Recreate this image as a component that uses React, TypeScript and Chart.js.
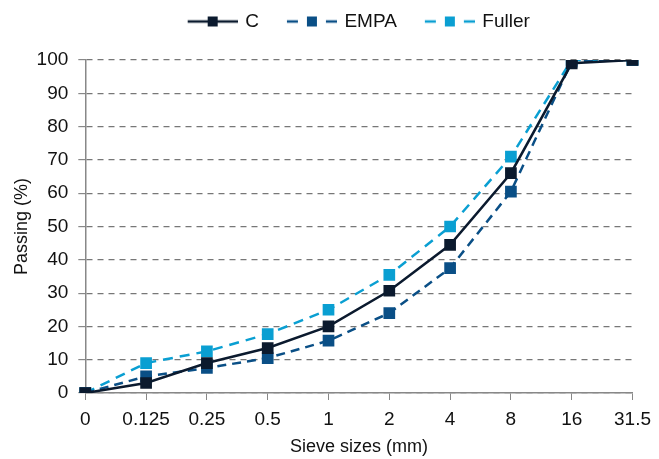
import React, { useEffect, useRef } from "react";
import { Chart, registerables } from "chart.js";
Chart.register(...registerables);

const categories = ["0", "0.125", "0.25", "0.5", "1", "2", "4", "8", "16", "31.5"];
const seriesC = [0, 3, 9, 13.5, 20, 30.7, 44.5, 66, 99, 100];
const seriesEMPA = [0, 5, 7.5, 10.5, 15.7, 24, 37.5, 60.5, 99.5, 100];
const seriesFuller = [0, 9, 12.5, 17.7, 25, 35.5, 50, 71, 100, 100];

const colC = "#0b1a2e";
const colEMPA = "#0a4f86";
const colFuller = "#0a9fd2";

const EXTRA = 22;

function legendIcon(color: string, dashed: boolean) {
  const c = document.createElement("canvas");
  c.width = 50 + EXTRA;
  c.height = 12;
  const ctx = c.getContext("2d")!;
  ctx.strokeStyle = color;
  ctx.lineWidth = 2.5;
  ctx.beginPath();
  const x0 = EXTRA;
  if (dashed) {
    ctx.moveTo(x0, 6); ctx.lineTo(x0 + 11, 6);
    ctx.moveTo(x0 + 39, 6); ctx.lineTo(x0 + 50, 6);
  } else {
    ctx.moveTo(x0, 6); ctx.lineTo(x0 + 50, 6);
  }
  ctx.stroke();
  ctx.fillStyle = color;
  ctx.fillRect(x0 + 20, 1, 10, 10);
  return c;
}

const legendShift = {
  id: "legendShift",
  beforeLayout(chart: any) {
    const lg = chart.legend;
    if (lg && !lg.__patched) {
      lg.__patched = true;
      const orig = lg.fit;
      lg.fit = function () {
        orig.call(this);
        this.height += 19;
      };
    }
  },
  afterLayout(chart: any) {
    if (chart.legend) {
      chart.legend.left += 58;
    }
  },
};

export default function App() {
  const ref = useRef<HTMLCanvasElement>(null);
  useEffect(() => {
    document.body.style.margin = "0";
    const icons = [legendIcon(colC, false), legendIcon(colEMPA, true), legendIcon(colFuller, true)];
    const font = { family: "'Liberation Sans', Arial, sans-serif", size: 19 };
    const tfont = { family: "'Liberation Sans', Arial, sans-serif", size: 18 };
    const chart = new Chart(ref.current!, {
      type: "line",
      plugins: [legendShift],
      data: {
        labels: categories,
        datasets: [
          { label: "C", data: seriesC, borderColor: colC, backgroundColor: colC, borderWidth: 2.5, pointStyle: "rect", pointRadius: 6.5, pointHoverRadius: 6.5, tension: 0 },
          { label: "EMPA", data: seriesEMPA, borderColor: colEMPA, backgroundColor: colEMPA, borderWidth: 2.5, borderDash: [9, 6], pointStyle: "rect", pointRadius: 6.5, tension: 0 },
          { label: "Fuller", data: seriesFuller, borderColor: colFuller, backgroundColor: colFuller, borderWidth: 2.5, borderDash: [10, 7], pointStyle: "rect", pointRadius: 6.5, tension: 0 },
        ],
      },
      options: {
        animation: false,
        responsive: true,
        maintainAspectRatio: false,
        layout: { padding: { left: 5, right: 24.5, top: 4, bottom: 1 } },
        plugins: {
          tooltip: { enabled: false },
          legend: {
            position: "top",
            labels: {
              color: "#111",
              font,
              usePointStyle: true,
              pointStyleWidth: 50 + EXTRA - 4,
              padding: 8,
              generateLabels: (ch: any) =>
                ch.data.datasets.map((d: any, i: number) => ({
                  text: d.label,
                  pointStyle: icons[i],
                  fontColor: "#111",
                  datasetIndex: i,
                  hidden: false,
                  lineWidth: 0,
                  strokeStyle: "transparent",
                  fillStyle: "transparent",
                })),
            },
          },
        },
        scales: {
          x: {
            offset: false,
            grid: { drawOnChartArea: false, drawTicks: true, tickLength: 7, color: "#888" },
            border: { display: true, color: "#888", width: 1.5 },
            ticks: { color: "#111", font, maxRotation: 0, autoSkip: false, padding: 8 },
            title: { display: true, text: "Sieve sizes (mm)", color: "#111", font: tfont, padding: { top: -2.4, bottom: 0 } },
          },
          y: {
            min: 0,
            max: 100,
            ticks: { stepSize: 10, color: "#111", font, padding: 10 },
            grid: { color: "#777", lineWidth: 1.2, tickLength: 7, tickBorderDash: [], tickColor: "#888" } as any,
            border: { display: true, color: "#888", width: 1.5, dash: [6, 5] } as any,
            title: { display: true, text: "Passing (%)", color: "#111", font: tfont, padding: { top: 6, bottom: -6 } },
          },
        },
      },
    });
    return () => chart.destroy();
  }, []);
  return (
    <div style={{ position: "fixed", left: 0, top: 0, width: 659, height: 459 }}>
      <canvas ref={ref} />
    </div>
  );
}
